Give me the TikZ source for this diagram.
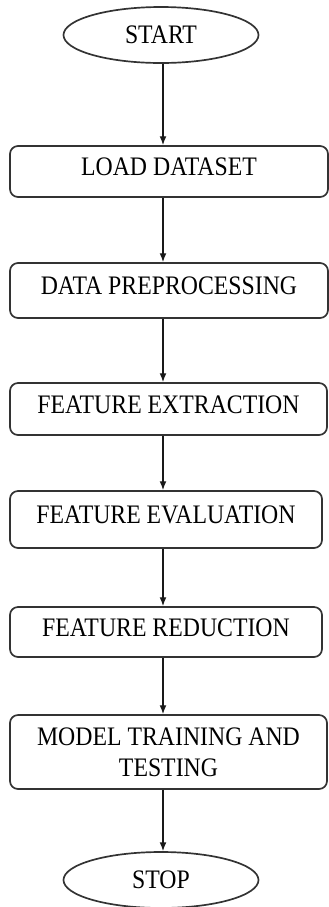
\documentclass[tikz,border=0pt]{standalone}
\usepackage{fontspec}
\setmainfont{Liberation Serif}[FakeStretch=0.89]
\usepackage{tikz}
\usetikzlibrary{calc,arrows.meta,shapes.geometric}
\tikzset{
	stepbox/.style={draw=black!80, line width=1.2pt, rounded corners=0.2cm, align=center, inner sep=0pt, text depth=0.22cm},
	termbox/.style={draw=black!80, line width=1.2pt, ellipse, inner sep=0pt, minimum width=4.875cm, minimum height=1.4cm},
	flow/.style={-{Latex[length=2.2mm,width=1.7mm]}, line width=0.9pt, color=black!90}
}

\begin{document}
\begin{tikzpicture}[font=\fontsize{19}{22}\selectfont]
		%%%%% START %%%%%
		
		\useasboundingbox (0, 0) rectangle (8.225, -22.675);
		
		\node[termbox] (start) at (4.025, -0.875) {START};
		\node[stepbox, minimum width=7.95cm, minimum height=1.275cm] (load) at (4.225, -4.2875) {LOAD DATASET};
		\node[stepbox, minimum width=7.95cm, minimum height=1.375cm] (prep) at (4.225, -7.2625) {DATA PREPROCESSING};
		\node[stepbox, minimum width=7.925cm, minimum height=1.3cm] (extr) at (4.2125, -10.225) {FEATURE EXTRACTION};
		\node[stepbox, minimum width=7.8cm, minimum height=1.425cm] (eval) at (4.15, -12.9875) {FEATURE EVALUATION};
		\node[stepbox, minimum width=7.8cm, minimum height=1.25cm] (redu) at (4.15, -15.8) {FEATURE REDUCTION};
		\node[stepbox, text depth=0pt, minimum width=7.925cm, minimum height=1.85cm] (model) at (4.2125, -18.8) {MODEL TRAINING AND\\TESTING};
		\node[termbox] (stop) at (4.025, -22.0) {STOP};
		
		% arrows all run down one line
		\coordinate (spine) at (4.075, 0);
		\draw[flow] (spine |- start.south) -- (spine |- load.north);
		\draw[flow] (spine |- load.south) -- (spine |- prep.north);
		\draw[flow] (spine |- prep.south) -- (spine |- extr.north);
		\draw[flow] (spine |- extr.south) -- (spine |- eval.north);
		\draw[flow] (spine |- eval.south) -- (spine |- redu.north);
		\draw[flow] (spine |- redu.south) -- (spine |- model.north);
		\draw[flow] (spine |- model.south) -- (spine |- stop.north);
		
		%%%%% END %%%%%
	\end{tikzpicture}
\end{document}
